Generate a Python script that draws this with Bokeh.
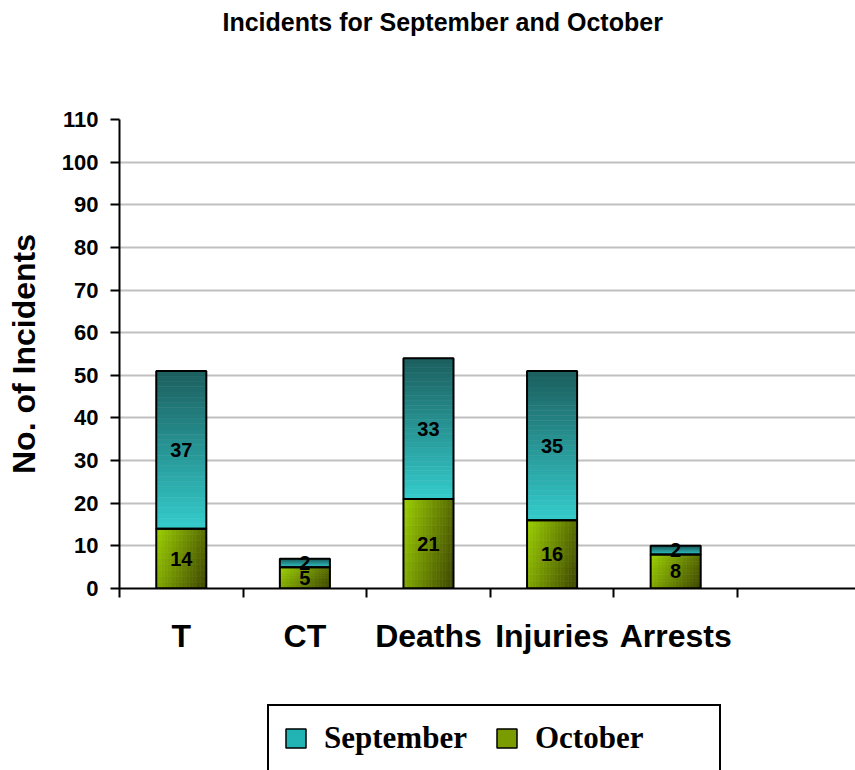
from bokeh.plotting import figure
from bokeh.models import (Range1d, LinearAxis, FixedTicker, Legend, LegendItem,
                          ColumnDataSource, Title)
from bokeh.layouts import column
from bokeh.embed import file_html
from bokeh.resources import INLINE
from bokeh.core.properties import value

# ---- data ----
categories = ["T", "CT", "Deaths", "Injuries", "Arrests"]
october = [14, 5, 21, 16, 8]
september = [37, 2, 33, 35, 2]
y_ticks = list(range(0, 111, 10))
series_names = ["September", "October"]
title_text = "Incidents for September and October"

FONT = "Liberation Sans"
BAR_W = 0.405

def lerp(c0, c1, t):
    t = max(0.0, min(1.0, t))
    return "#%02x%02x%02x" % tuple(int(round(a + (b - a) * t)) for a, b in zip(c0, c1))

p = figure(width=855, height=700, output_backend="svg", toolbar_location=None,
           x_range=Range1d(-0.5, 5.455), y_range=Range1d(0, 110),
           min_border_left=119, min_border_right=0, min_border_top=118,
           min_border_bottom=112, title_location=None)
p.outline_line_color = None
p.xaxis.visible = False
p.xgrid.visible = False
p.background_fill_color = "white"
p.border_fill_color = "white"

# spacer (closest to frame) then the title above it
p.add_layout(Title(text=" ", text_font_size="60px"), "above")
p.add_layout(Title(text=title_text, text_font=FONT, text_font_size="25px",
                   text_font_style="bold", text_color="black", align="left",
                   offset=103), "above")

# y axis
ya = p.yaxis[0]
ya.ticker = FixedTicker(ticks=y_ticks)
ya.axis_line_width = 2
ya.axis_line_color = "black"
ya.major_tick_line_width = 2
ya.major_tick_line_color = "black"
ya.major_tick_out = 9
ya.major_tick_in = 0
ya.minor_tick_line_color = None
ya.major_label_text_font = FONT
ya.major_label_text_font_size = "22px"
ya.major_label_text_font_style = "bold"
ya.major_label_text_color = "black"
ya.major_label_standoff = 12
ya.axis_label = "No. of Incidents"
ya.axis_label_text_font = FONT
ya.axis_label_text_font_size = "32px"
ya.axis_label_text_font_style = "bold"
ya.axis_label_text_color = "black"
ya.axis_label_standoff = 17

p.ygrid.ticker = FixedTicker(ticks=y_ticks)
p.ygrid.grid_line_color = "#c0c0c0"
p.ygrid.grid_line_width = 2

# x axes: boundary ticks + centered labels
n = len(categories)
idx = list(range(n))
bounds = [i - 0.5 for i in range(n + 1)]
xa1 = LinearAxis(ticker=FixedTicker(ticks=bounds))
xa1.major_label_overrides = {b: "" for b in bounds}
xa1.axis_line_width = 2
xa1.axis_line_color = "black"
xa1.major_tick_line_width = 2
xa1.major_tick_line_color = "black"
xa1.major_tick_out = 9
xa1.major_tick_in = 0
xa1.minor_tick_line_color = None
xa1.major_label_standoff = 0
p.add_layout(xa1, "below")

xa2 = LinearAxis(ticker=FixedTicker(ticks=idx))
xa2.major_label_overrides = {i: c for i, c in enumerate(categories)}
xa2.axis_line_color = None
xa2.major_tick_line_color = None
xa2.minor_tick_line_color = None
xa2.major_label_text_font = FONT
xa2.major_label_text_font_size = "32px"
xa2.major_label_text_font_style = "bold"
xa2.major_label_text_color = "black"
xa2.major_label_standoff = 14
p.add_layout(xa2, "below")

# ---- bars with gradient fills ----
sep_top, sep_bot = (28, 94, 94), (52, 204, 204)
oct_a, oct_b = (156, 208, 0), (66, 76, 0)
NS = 30
NC, NR = 18, 10

q = dict(left=[], right=[], top=[], bottom=[], color=[])
for i in idx:
    x0, x1 = i - BAR_W / 2, i + BAR_W / 2
    b0, b1 = 0, october[i]
    for r in range(NR):
        yb = b0 + (b1 - b0) * r / NR
        yt = b0 + (b1 - b0) * (r + 1) / NR
        ydown = 1 - (r + 0.5) / NR
        for c in range(NC):
            xl = x0 + (x1 - x0) * c / NC
            xr = x0 + (x1 - x0) * (c + 1) / NC
            xf = (c + 0.5) / NC
            q["left"].append(xl); q["right"].append(xr)
            q["bottom"].append(yb); q["top"].append(yt)
            q["color"].append(lerp(oct_a, oct_b, 0.75 * xf + 0.3 * ydown))
    s0, s1 = october[i], october[i] + september[i]
    for k in range(NS):
        yb = s0 + (s1 - s0) * k / NS
        yt = s0 + (s1 - s0) * (k + 1) / NS
        t = (k + 0.5) / NS
        q["left"].append(x0); q["right"].append(x1)
        q["bottom"].append(yb); q["top"].append(yt)
        q["color"].append(lerp(sep_bot, sep_top, t))

p.quad(left="left", right="right", top="top", bottom="bottom",
       fill_color="color", line_color="color", line_width=0.6,
       source=ColumnDataSource(q))

tot = [o + s for o, s in zip(october, september)]
p.vbar(x=idx, width=BAR_W, bottom=0, top=october, fill_alpha=0,
       line_color="black", line_width=2)
p.vbar(x=idx, width=BAR_W, bottom=october, top=tot, fill_alpha=0,
       line_color="black", line_width=2)

lab_x = idx + idx
lab_y = [o / 2 for o in october] + [o + s / 2 for o, s in zip(october, september)]
lab_t = [str(v) for v in october] + [str(v) for v in september]
p.text(x=lab_x, y=lab_y, text=lab_t, text_align="center", text_baseline="middle",
       text_font=value(FONT), text_font_size="20px", text_font_style="bold",
       text_color="black")

# ---- legend (separate strip below the chart) ----
lg = figure(width=855, height=70, output_backend="svg", toolbar_location=None,
            x_range=Range1d(0, 1), y_range=Range1d(0, 1),
            min_border_left=0, min_border_right=0, min_border_top=0,
            min_border_bottom=0)
lg.axis.visible = False
lg.grid.visible = False
lg.outline_line_color = None
lg.border_fill_color = "white"
# hidden proxy renderers (one row each) so the legend can draw its swatches
r_sep = lg.vbar(x=[0], top=[sum(september)], width=0.1,
                fill_color="#22b4b4", line_color="black", line_width=1.5,
                visible=False)
r_oct = lg.vbar(x=[0], top=[sum(october)], width=0.1,
                fill_color="#7a9c00", line_color="black", line_width=1.5,
                visible=False)
legend = Legend(items=[LegendItem(label=series_names[0], renderers=[r_sep]),
                       LegendItem(label=series_names[1], renderers=[r_oct])],
                orientation="horizontal", location=(148, -2))
legend.label_text_font = "Liberation Serif"
legend.label_text_font_size = "31px"
legend.label_text_font_style = "bold"
legend.label_text_color = "black"
legend.label_width = 170
legend.label_standoff = 16
legend.glyph_width = 25
legend.glyph_height = 24
legend.spacing = 0
legend.padding = 14
legend.margin = 0
legend.border_line_color = "black"
legend.border_line_alpha = 1
legend.border_line_width = 2
legend.background_fill_color = "white"
legend.background_fill_alpha = 1
legend.inactive_fill_alpha = 0
lg.add_layout(legend, "center")

open("out.html", "w").write(file_html(column(p, lg, spacing=0), INLINE))
